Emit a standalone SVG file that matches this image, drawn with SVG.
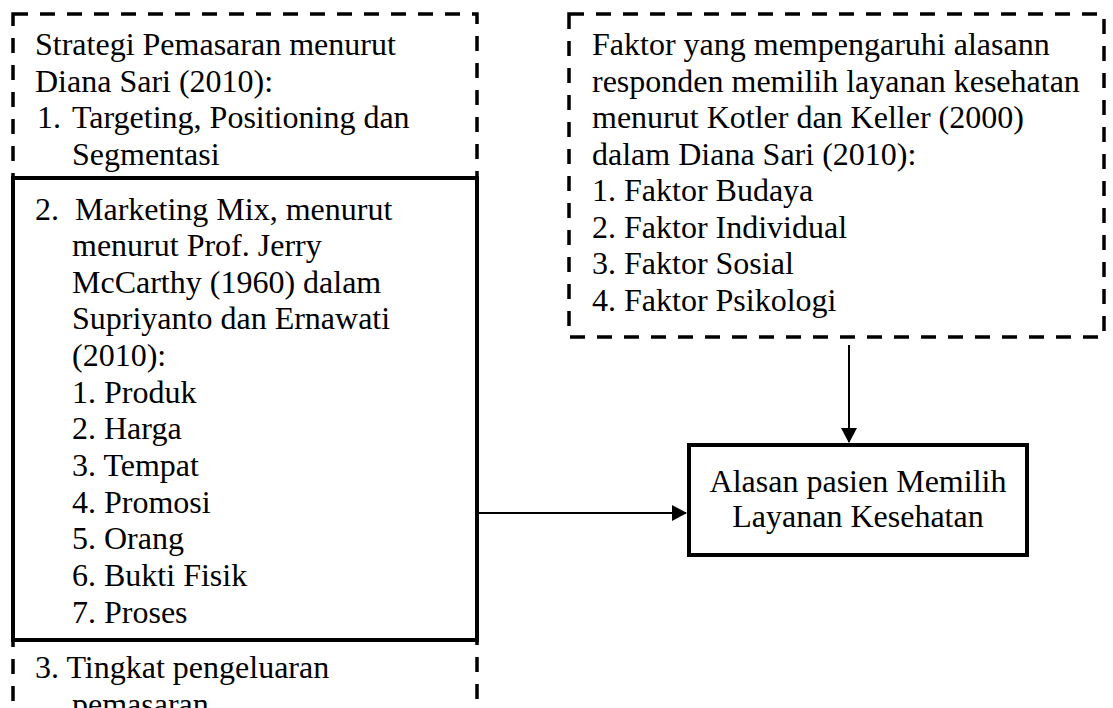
<svg xmlns="http://www.w3.org/2000/svg" width="1113" height="708" viewBox="0 0 1113 708">
<style>
  text { font-family: "Liberation Serif", "Times New Roman", serif; font-size: 32px; fill: #000; }
  .dash { fill: none; stroke: #000; stroke-width: 3.5; stroke-dasharray: 15 12; }
  .solid { fill: #fff; stroke: #000; stroke-width: 4; }
  .conn { stroke: #000; stroke-width: 2; fill: none; }
</style>
<defs>
  <marker id="arr" markerWidth="8" markerHeight="8" refX="7" refY="4" orient="auto" markerUnits="strokeWidth">
    <path d="M0,0 L7.5,4 L0,8 Z" fill="#000"/>
  </marker>
</defs>
<rect width="1113" height="708" fill="#fff"/>

<g id="strategi">
  <rect class="dash" x="13" y="14" width="464" height="730"/>
  <text x="35" y="55">Strategi Pemasaran menurut</text>
  <text x="35" y="92">Diana Sari (2010):</text>
  <text y="128"><tspan x="37">1.</tspan><tspan x="72">Targeting, Positioning dan</tspan></text>
  <text x="72" y="165">Segmentasi</text>
  <text y="678"><tspan x="35">3. Tingkat pengeluaran</tspan></text>
  <text x="72" y="715">pemasaran</text>
</g>

<g id="marketing-mix">
  <rect class="solid" x="13" y="178" width="464" height="462"/>
  <text y="220"><tspan x="35">2.</tspan><tspan x="75">Marketing Mix, menurut</tspan></text>
  <text x="72" y="256">menurut Prof. Jerry</text>
  <text x="72" y="293">McCarthy (1960) dalam</text>
  <text x="72" y="329">Supriyanto dan Ernawati</text>
  <text x="72" y="366">(2010):</text>
  <text x="72" y="403">1. Produk</text>
  <text x="72" y="439">2. Harga</text>
  <text x="72" y="476">3. Tempat</text>
  <text x="72" y="513">4. Promosi</text>
  <text x="72" y="549">5. Orang</text>
  <text x="72" y="586">6. Bukti Fisik</text>
  <text x="72" y="623">7. Proses</text>
</g>

<g id="faktor">
  <rect class="dash" x="569" y="14" width="535" height="323"/>
  <text x="592" y="55">Faktor yang mempengaruhi alasann</text>
  <text x="592" y="92">responden memilih layanan kesehatan</text>
  <text x="592" y="128">menurut Kotler dan Keller (2000)</text>
  <text x="592" y="165">dalam Diana Sari (2010):</text>
  <text x="592" y="201">1. Faktor Budaya</text>
  <text x="592" y="238">2. Faktor Individual</text>
  <text x="592" y="274">3. Faktor Sosial</text>
  <text x="592" y="311">4. Faktor Psikologi</text>
</g>

<g id="alasan">
  <rect class="solid" x="689" y="445" width="338" height="110"/>
  <text x="858" y="492" text-anchor="middle">Alasan pasien Memilih</text>
  <text x="858" y="527" text-anchor="middle">Layanan Kesehatan</text>
</g>

<g id="connectors">
  <line class="conn" x1="479" y1="513" x2="686" y2="513" marker-end="url(#arr)"/>
  <line class="conn" x1="849" y1="345" x2="849" y2="442" marker-end="url(#arr)"/>
</g>
</svg>
